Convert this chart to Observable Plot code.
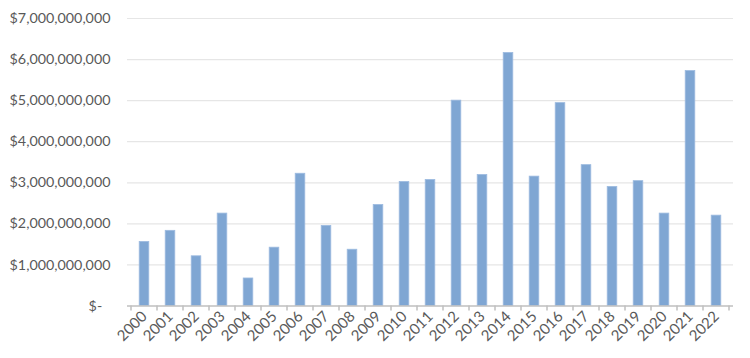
<!DOCTYPE html>
<html>
<head>
<meta charset="utf-8">
<script src="https://cdn.jsdelivr.net/npm/d3@7"></script>
<script src="https://cdn.jsdelivr.net/npm/@observablehq/plot@0.6"></script>
<style>
  html, body { margin: 0; padding: 0; background: #fff; }
  #chart { width: 750px; height: 358px; }
</style>
</head>
<body>
<div id="chart"></div>
<script>
const years = ["2000","2001","2002","2003","2004","2005","2006","2007","2008","2009","2010","2011","2012","2013","2014","2015","2016","2017","2018","2019","2020","2021","2022"];
const valuesBillions = [1.56,1.83,1.21,2.25,0.67,1.42,3.22,1.95,1.37,2.46,3.02,3.07,5.00,3.19,6.16,3.15,4.94,3.43,2.90,3.04,2.25,5.72,2.20];
const yTicks = [0,1e9,2e9,3e9,4e9,5e9,6e9,7e9];

const data = years.map((y, i) => ({year: y, value: valuesBillions[i] * 1e9}));

const fmt = d => d === 0 ? "$-\u2007" : "$" + d3.format(",")(d);

// custom mark: tick marks at category boundaries
function boundaryTicks(index, scales, values, dimensions) {
  const ns = "http://www.w3.org/2000/svg";
  const g = document.createElementNS(ns, "g");
  const xs = scales.scales ? scales.scales.x : null;
  const domain = years;
  const x = scales.x;
  const bw = (xs && xs.bandwidth) ? xs.bandwidth : (x.bandwidth ? x.bandwidth() : 0);
  const y0 = scales.y(0);
  const edges = domain.map(d => x(d)).concat([x(domain[domain.length - 1]) + bw]);
  for (const e of edges) {
    const l = document.createElementNS(ns, "line");
    l.setAttribute("x1", e); l.setAttribute("x2", e);
    l.setAttribute("y1", y0); l.setAttribute("y2", y0 + 5);
    l.setAttribute("stroke", "#bfbfbf");
    l.setAttribute("stroke-width", 1.5);
    g.appendChild(l);
  }
  return g;
}

const plot = Plot.plot({
  width: 750,
  height: 358,
  marginLeft: 127,
  marginRight: 17,
  marginTop: 18,
  marginBottom: 52.5,
  style: {fontFamily: "Lato, 'Open Sans', sans-serif", fontSize: "15px", color: "#595959", background: "#fff"},
  x: {domain: years, padding: 0, label: null},
  y: {domain: [0, 7e9], label: null},
  marks: [
    Plot.ruleY(yTicks.filter(d => d > 0), {stroke: "#e6e6e6", strokeWidth: 1.2}),
    Plot.barY(data, {x: "year", y: "value", fill: "#7fa6d3", stroke: "#9dbbe0", strokeWidth: 0.8, insetLeft: 8.2, insetRight: 8.2}),
    Plot.ruleY([0], {stroke: "#bfbfbf", strokeWidth: 1.5}),
    boundaryTicks,
    Plot.axisY({ticks: yTicks, tickFormat: fmt, tickSize: 0, tickPadding: 17, fontSize: 14.3, fill: "#595959", label: null}),
    Plot.axisX({tickSize: 0, tickRotate: -45, tickPadding: 8, fontSize: 15, fill: "#595959", label: null})
  ]
});
document.getElementById("chart").appendChild(plot);
</script>
</body>
</html>
